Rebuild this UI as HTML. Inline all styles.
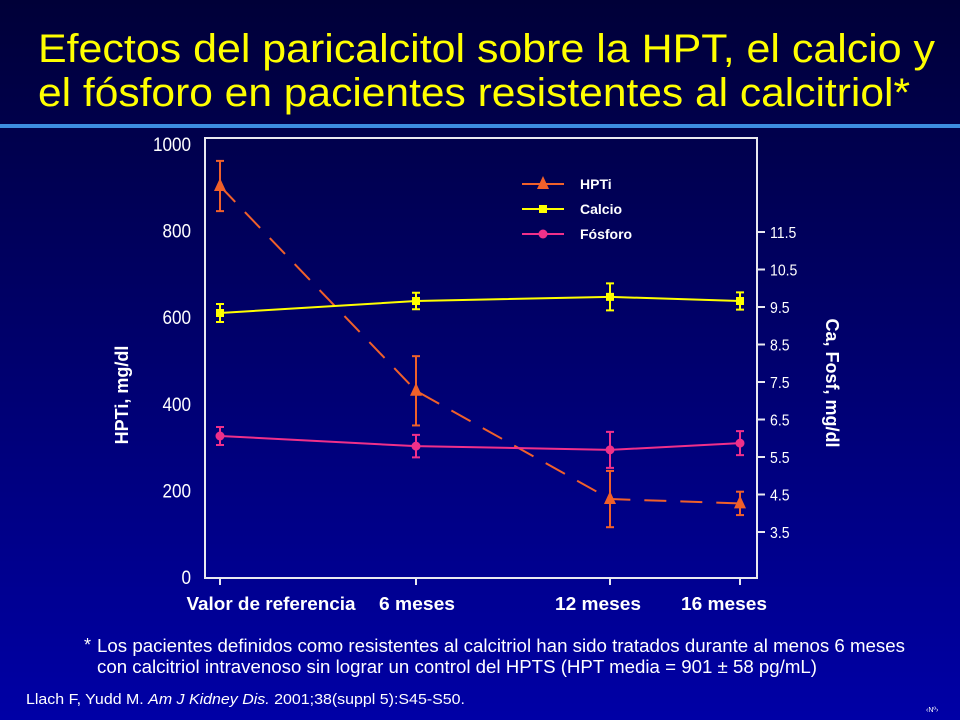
<!DOCTYPE html>
<html><head><meta charset="utf-8"><style>
body{margin:0;width:960px;height:720px;overflow:hidden;font-family:"Liberation Sans",sans-serif}
svg{display:block}
</style></head><body>
<svg width="960" height="720">
<defs><linearGradient id="bg" x1="0" y1="0" x2="0" y2="1"><stop offset="0" stop-color="#000038"/><stop offset="0.5" stop-color="#00006e"/><stop offset="1" stop-color="#0000a6"/></linearGradient></defs>
<rect width="960" height="720" fill="url(#bg)"/>
<g fill="#ffff00" font-size="40">
<text x="38" y="62" textLength="897" lengthAdjust="spacingAndGlyphs">Efectos del paricalcitol sobre la HPT, el calcio y</text>
<text x="38" y="106" textLength="872" lengthAdjust="spacingAndGlyphs">el fósforo en pacientes resistentes al calcitriol*</text>
</g>
<rect x="0" y="124" width="960" height="4" fill="#3d8de0"/>
<g id="chart"></g>
<g fill="#fff" font-size="18">
<text x="84" y="651">* </text>
<text x="97" y="652" textLength="808" lengthAdjust="spacingAndGlyphs">Los pacientes definidos como resistentes al calcitriol han sido tratados durante al menos 6 meses</text>
<text x="97" y="673" textLength="720" lengthAdjust="spacingAndGlyphs">con calcitriol intravenoso sin lograr un control del HPTS (HPT media = 901 ± 58 pg/mL)</text>
</g>
<text x="26" y="704" fill="#fff" font-size="15" textLength="439" lengthAdjust="spacingAndGlyphs">Llach F, Yudd M. <tspan font-style="italic">Am J Kidney Dis.</tspan> 2001;38(suppl 5):S45-S50.</text>
<text x="926" y="712" fill="#fff" font-size="7">‹Nº›</text>
</svg>
<script>
const categories=["Valor de referencia","6 meses","12 meses","16 meses"];
const hptValues=[903,430,180,170];
const hptErr=[58,80,65,27];
const calcioValues=[9.34,9.66,9.77,9.66];
const calcioErr=[0.24,0.22,0.36,0.23];
const fosforoValues=[6.06,5.79,5.69,5.87];
const fosforoErr=[0.24,0.3,0.48,0.32];
const leftTicks=[0,200,400,600,800,1000];
const rightTicks=[3.5,4.5,5.5,6.5,7.5,8.5,9.5,10.5,11.5];
const NS="http://www.w3.org/2000/svg";
const g=document.getElementById('chart');
const catX=[220,416,610,740];
const xS=i=>catX[i];
const yL=v=>577-v*0.433;
const yR=v=>532-(v-3.5)*37.5;
function mk(t,a,p){const e=document.createElementNS(NS,t);for(const k in a)e.setAttribute(k,a[k]);(p||g).appendChild(e);return e;}
let f=mk('rect',{x:205,y:138,width:552,height:440,fill:'none',stroke:'#e8e8f0','stroke-width':2});


leftTicks.forEach(v=>{let t=mk('text',{x:191,y:yL(v)+7,fill:'#fff','font-size':19,'text-anchor':'end',transform:`translate(191,0) scale(0.9,1) translate(-191,0)`});t.textContent=v;

});
rightTicks.forEach(v=>{mk('line',{x1:757,x2:765,y1:yR(v),y2:yR(v),stroke:'#e8e8f0','stroke-width':2});
let t=mk('text',{x:770,y:yR(v)+6,fill:'#fff','font-size':16,transform:`translate(770,0) scale(0.88,1) translate(-770,0)`});t.textContent=v.toFixed(1);

});
const labW=[169,76,86,86];
categories.forEach((c,i)=>{mk('line',{x1:xS(i),x2:xS(i),y1:578,y2:585,stroke:'#e8e8f0','stroke-width':2});
const lx=[271,417,598,724][i];
let t=mk('text',{x:lx-labW[i]/2,y:610,fill:'#fff','font-size':18,'font-weight':'bold',textLength:labW[i],lengthAdjust:'spacingAndGlyphs'});t.textContent=c;

});
let yt=mk('text',{x:0,y:0,fill:'#fff','font-size':18,'font-weight':'bold','text-anchor':'middle',transform:'translate(128,395) rotate(-90)'});yt.textContent='HPTi, mg/dl';


let yt2=mk('text',{x:0,y:0,fill:'#fff','font-size':18,'font-weight':'bold','text-anchor':'middle',transform:'translate(826,383) rotate(90)'});yt2.textContent='Ca, Fosf, mg/dl';


function series(vals,err,ys,color,name,marker,dash){
 const sg=mk('g',{});
 
 
 mk('polyline',{points:vals.map((v,i)=>xS(i)+','+ys(v)).join(' '),fill:'none',stroke:color,'stroke-width':2,'stroke-dasharray':dash||''},sg);
 vals.forEach((v,i)=>{const x=xS(i),a=ys(v+err[i]),b=ys(v-err[i]);
  mk('line',{x1:x,x2:x,y1:a,y2:b,stroke:color,'stroke-width':2},sg);
  mk('line',{x1:x-4,x2:x+4,y1:a,y2:a,stroke:color,'stroke-width':2},sg);
  mk('line',{x1:x-4,x2:x+4,y1:b,y2:b,stroke:color,'stroke-width':2},sg);
  drawMarker(sg,marker,x,ys(v),color,name+'-point');});
}
function drawMarker(p,m,x,y,c,n){let e;
 if(m==='tri')e=mk('polygon',{points:`${x},${y-8} ${x-6},${y+5} ${x+6},${y+5}`,fill:c},p);
 else if(m==='sq')e=mk('rect',{x:x-4,y:y-4,width:8,height:8,fill:c},p);
 else e=mk('circle',{cx:x,cy:y,r:4.5,fill:c},p);
 
 }
series(hptValues,hptErr,yL,'#f0602a','hpti','tri','22 14');
series(calcioValues,calcioErr,yR,'#ffff00','calcio','sq');
series(fosforoValues,fosforoErr,yR,'#f0308a','fosforo','circ');
const leg=[['HPTi','#f0602a','tri'],['Calcio','#ffff00','sq'],['Fósforo','#f0308a','circ']];
leg.forEach((l,i)=>{const y=184+i*25;const lg=mk('g',{});
 
 
 mk('line',{x1:522,x2:564,y1:y,y2:y,stroke:l[1],'stroke-width':2},lg);
 drawMarker(lg,l[2],543,y,l[1],'legend-marker');
 let t=mk('text',{x:580,y:y+5,fill:'#fff','font-size':14,'font-weight':'bold'},lg);t.textContent=l[0];});
</script>
</body></html>
